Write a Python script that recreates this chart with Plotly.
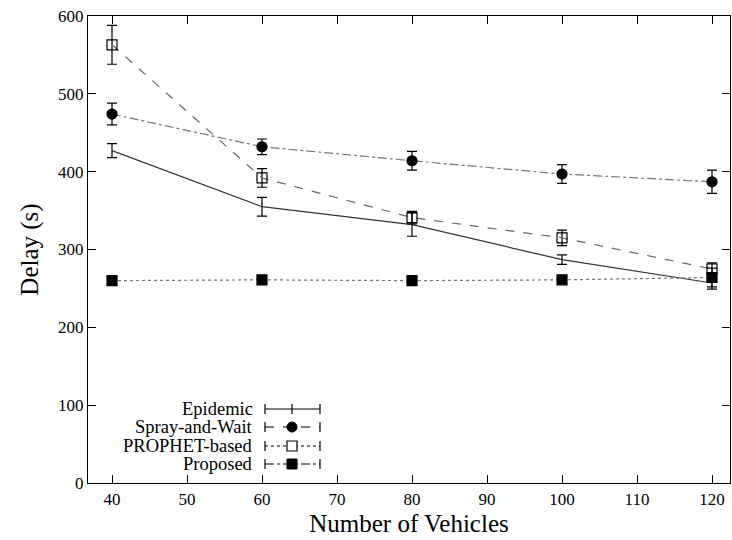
import plotly.graph_objects as go

vehicles = [40, 60, 80, 100, 120]

epidemic = [427, 355, 332, 287, 257]
epidemic_err = [9, 12, 15, 6, 8]

spray = [474, 432, 414, 397, 387]
spray_err = [14, 10, 12, 12, 15]

prophet = [563, 392, 341, 315, 275]
prophet_err = [25, 12, 8, 10, 8]

proposed = [260, 261, 260, 261, 264]
proposed_err = [2, 4, 4, 3, 12]

names = ["Epidemic", "Spray-and-Wait", "PROPHET-based", "Proposed"]

FONT = "Times New Roman, Liberation Serif, Times, serif"
fig = go.Figure()

series = [
    (epidemic, epidemic_err, "solid", None, "#333333"),
    (spray, spray_err, "dashdot", "circle", "#777777"),
    (prophet, prophet_err, "dash", "square-open", "#666666"),
    (proposed, proposed_err, "dot", "square", "#777777"),
]
for (vals, err, dash, sym, lc), nm in zip(series, names):
    fig.add_trace(go.Scatter(
        x=vehicles, y=vals, name=nm,
        mode="lines+markers" if sym else "lines",
        line=dict(color=lc, width=1.2, dash=dash),
        marker=dict(symbol=sym or "circle", size=10 if sym else 1, color="black",
                    line=dict(color="black", width=1.2)),
        error_y=dict(type="data", array=err, color="black", thickness=1.2, width=5),
        showlegend=False,
    ))

# manual legend (gnuplot style); positions in pixels converted to plot-area paper coords
L, R, T, B = 88, 730, 16, 483
W, H = 732, 540
def px(x): return (x - L) / (R - L)
def py(y): return (B - y) / (B - T)

legend_rows = [409, 427, 446, 464]
legend_dash = ["solid", "dash", "dot", "dashdot"]
legend_sym = [None, "circle", "square-open", "square"]
for nm, yy, dsh, sym in zip(names, legend_rows, legend_dash, legend_sym):
    fig.add_annotation(xref="paper", yref="paper", x=px(255), y=py(yy), text=nm,
                       showarrow=False, xanchor="right", yanchor="middle",
                       font=dict(family=FONT, size=18.5, color="black"))
    fig.add_shape(type="line", xref="paper", yref="paper", x0=px(265), x1=px(320),
                  y0=py(yy), y1=py(yy), line=dict(color="black", width=1.2, dash=dsh))
    for xx in (265, 292, 320):
        if xx == 292 and sym is not None:
            continue
        fig.add_shape(type="line", xref="paper", yref="paper", x0=px(xx), x1=px(xx),
                      y0=py(yy - 5), y1=py(yy + 5), line=dict(color="black", width=1.2))
    if sym == "circle":
        fig.add_shape(type="circle", xref="paper", yref="paper", x0=px(287), x1=px(297),
                      y0=py(yy - 5), y1=py(yy + 5), fillcolor="black", line=dict(color="black", width=1))
    elif sym == "square-open":
        fig.add_shape(type="rect", xref="paper", yref="paper", x0=px(287), x1=px(297),
                      y0=py(yy - 5), y1=py(yy + 5), fillcolor="white", line=dict(color="black", width=1.2))
    elif sym == "square":
        fig.add_shape(type="rect", xref="paper", yref="paper", x0=px(287), x1=px(297),
                      y0=py(yy - 5), y1=py(yy + 5), fillcolor="black", line=dict(color="black", width=1))

axis_common = dict(showgrid=False, zeroline=False, showline=True, linecolor="black",
                   linewidth=1.2, mirror="ticks", ticks="inside", ticklen=8,
                   tickcolor="black", tickfont=dict(family=FONT, size=17, color="black"))
fig.update_xaxes(range=[36.8, 122.4], tickvals=[40, 50, 60, 70, 80, 90, 100, 110, 120],
                 title=dict(text="Number of Vehicles", font=dict(family=FONT, size=25, color="black"),
                            standoff=6), **axis_common)
fig.update_yaxes(range=[0, 600], tickvals=[0, 100, 200, 300, 400, 500, 600],
                 title=dict(text="Delay (s)", font=dict(family=FONT, size=25, color="black"),
                            standoff=12), **axis_common)
fig.update_layout(width=W, height=H, margin=dict(l=L, r=W - R, t=T, b=H - B),
                  plot_bgcolor="white", paper_bgcolor="white")
fig.write_html("out.html")
